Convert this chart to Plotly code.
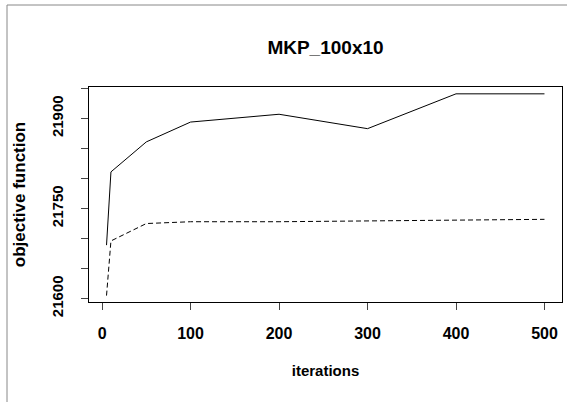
import plotly.graph_objects as go

iterations = [5, 10, 50, 100, 200, 300, 400, 500]
best_obj = [21689, 21811, 21861, 21894, 21907, 21883, 21941, 21941]
mean_obj = [21605, 21696, 21725, 21728, 21728, 21729, 21730, 21732]

x_ticks = [0, 100, 200, 300, 400, 500]
y_ticks = [21600, 21650, 21700, 21750, 21800, 21850, 21900, 21950]
y_labels = ['21600', '', '', '21750', '', '', '21900', '']

W, H = 567, 402
L, R, T, B = 89, 5, 87, 100
FONT = 'Liberation Sans, Arial, sans-serif'


def px_to_paper(px, py):
    # convert pixel position in the page to paper coordinates
    return (px - L) / (W - L - R), (H - B - py) / (H - T - B)


fig = go.Figure()
fig.add_trace(go.Scatter(
    x=iterations, y=best_obj, mode='lines',
    line=dict(color='black', width=1),
))
fig.add_trace(go.Scatter(
    x=iterations, y=mean_obj, mode='lines',
    line=dict(color='black', width=1, dash='5px,3px'),
))

axis_common = dict(
    showline=True, mirror=True, linecolor='black', linewidth=1,
    ticks='outside', ticklen=7, tickcolor='#444', tickwidth=1,
    showgrid=False, zeroline=False, automargin=False,
)

fig.update_xaxes(
    range=[-14.8, 519.8], tickvals=x_ticks,
    ticklabelstandoff=10,
    tickfont=dict(family=FONT, size=16, color='black', weight='bold'),
    title=dict(text='iterations', standoff=24,
               font=dict(family=FONT, size=15, color='black', weight='bold')),
    **axis_common,
)
fig.update_yaxes(
    range=[21594.3, 21952.4], tickvals=y_ticks, ticktext=y_labels,
    tickangle=-90, ticklabelstandoff=12,
    tickfont=dict(family=FONT, size=15, color='black', weight='bold'),
    title=dict(text='objective function', standoff=19,
               font=dict(family=FONT, size=17, color='black', weight='bold')),
    **axis_common,
)

# outer grey border at the top and left of the picture
x0, y0 = px_to_paper(7, 5)
x1, _ = px_to_paper(W, 5)
_, y1 = px_to_paper(7, H)
fig.add_shape(type='line', xref='paper', yref='paper', x0=x0, y0=y0, x1=x1, y1=y0,
              line=dict(color='#888', width=1))
fig.add_shape(type='line', xref='paper', yref='paper', x0=x0, y0=y0, x1=x0, y1=y1,
              line=dict(color='#888', width=1))

fig.update_layout(
    width=W, height=H,
    margin=dict(l=L, r=R, t=T, b=B, autoexpand=False),
    showlegend=False,
    plot_bgcolor='white', paper_bgcolor='white',
    title=dict(text='MKP_100x10', x=0.5, xref='paper', xanchor='center',
               y=1 - 47 / H, yanchor='middle',
               font=dict(family=FONT, size=19, color='black', weight='bold')),
)

# drop the default page margin so the figure sits at the window corner
fig.write_html('out.html', config={'displayModeBar': False},
               post_script="document.body.style.margin='0';")
